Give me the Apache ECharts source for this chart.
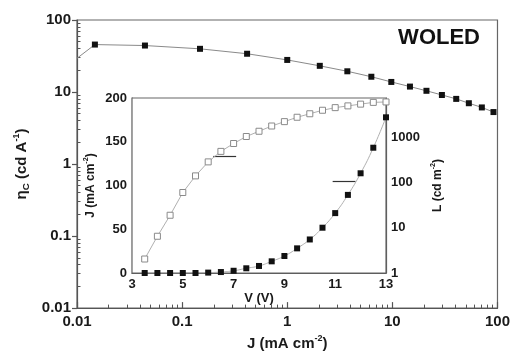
<!DOCTYPE html>
<html>
<head>
<meta charset="utf-8">
<script src="https://cdn.jsdelivr.net/npm/echarts@6/dist/echarts.min.js"></script>
<style>
  html, body { margin: 0; padding: 0; background: #fff; }
  #chart { width: 513px; height: 356px; }
</style>
</head>
<body>
<div id="chart"></div>
<script>
// main plot: current efficiency vs current density
const mainJ = [0.01, 0.0148, 0.0443, 0.148, 0.415, 1.0, 2.04, 3.73, 6.31, 9.77, 14.7, 21.1, 29.6, 40.5, 53.4, 71.0, 91.6];
const mainEta = [29.4, 45.6, 44.2, 39.8, 34.0, 27.9, 23.1, 19.4, 16.3, 13.8, 11.9, 10.4, 9.1, 8.03, 6.99, 6.11, 5.27];

// inset: J-V and L-V
const insetV = [3.5, 4, 4.5, 5, 5.5, 6, 6.5, 7, 7.5, 8, 8.5, 9, 9.5, 10, 10.5, 11, 11.5, 12, 12.5, 13];
const insetJ = [16, 42, 66, 92, 111, 127, 139, 148, 156, 162, 168, 173, 178, 182, 186, 189, 191, 193, 195, 195.5];
const insetL = [1, 1, 1, 1, 1, 1.02, 1.05, 1.12, 1.27, 1.43, 1.81, 2.37, 3.5, 5.5, 10, 21, 53, 159, 583, 2735];

// little arrows telling which axis each curve belongs to
const arrowJ = [[6.2, 133], [7.1, 133]];
const arrowL = [[10.9, 107], [11.8, 107]];

const logTicks = [0.01, 0.1, 1, 10, 100];
const insetLogTicks = [1, 10, 100, 1000];

function minorLog(lo, hi) {
  let out = [];
  for (let d = lo; d < hi; d *= 10) {
    for (let k = 2; k <= 9; k++) out.push(+(d * k).toPrecision(3));
  }
  return out;
}

const font = 'Liberation Sans, Arial, sans-serif';
const txt = '#1a1a1a';
const axisCol = '#555';
const fmt = v => String(parseFloat(Number(v).toPrecision(3)));

let chart = echarts.init(document.getElementById('chart'));

const labelStyle = size => ({
  fontFamily: font, fontWeight: 'bold', fontSize: size, color: txt
});
const richName = size => ({
  fontFamily: font, fontWeight: 'bold', fontSize: size, color: txt,
  rich: {
    a: {fontFamily: font, fontWeight: 'bold', fontSize: size, color: txt, lineHeight: size + 4},
    sup: {fontFamily: font, fontWeight: 'bold', fontSize: size * 0.6, color: txt, verticalAlign: 'top', lineHeight: size + 4},
    sub: {fontFamily: font, fontWeight: 'bold', fontSize: size * 0.65, color: txt, verticalAlign: 'bottom', lineHeight: size + 4}
  }
});

let option = {
  animation: false,
  backgroundColor: '#fff',
  grid: [
    {left: 77, top: 20, width: 421, height: 293, show: true, borderColor: '#666', borderWidth: 1.2},
    {left: 132, top: 98, width: 254, height: 175, show: true, borderColor: '#666', borderWidth: 1.2, backgroundColor: '#fff', z: 3}
  ],
  xAxis: [
    {
      type: 'log', gridIndex: 0, min: 0.01, max: 100, logBase: 10,
      axisLine: {lineStyle: {color: axisCol, width: 1.2}},
      axisTick: {inside: true, length: 6, lineStyle: {color: axisCol, width: 1.2}, customValues: logTicks},
      axisLabel: Object.assign(labelStyle(15), {formatter: fmt, margin: 6, customValues: logTicks}),
      splitLine: {show: false},
      name: '{a|J (mA cm}{sup|-2}{a|)}', nameLocation: 'middle', nameGap: 24,
      nameTextStyle: richName(15)
    },
    {
      type: 'log', gridIndex: 0, min: 0.01, max: 100, position: 'bottom',
      axisLine: {show: false},
      axisTick: {show: true, inside: true, length: 3.5, lineStyle: {color: axisCol, width: 1}, customValues: minorLog(0.01, 100)},
      axisLabel: {show: false}, splitLine: {show: false}
    },
    {
      type: 'value', gridIndex: 1, min: 3, max: 13, interval: 2,
      axisLine: {lineStyle: {color: axisCol, width: 1.2}},
      axisTick: {inside: true, length: 4, lineStyle: {color: axisCol}},
      minorTick: {show: true, splitNumber: 2, length: 2.5, lineStyle: {color: axisCol}},
      axisLabel: Object.assign(labelStyle(13), {margin: 5}),
      splitLine: {show: false},
      name: 'V (V)', nameLocation: 'middle', nameGap: 18,
      nameTextStyle: labelStyle(13)
    }
  ],
  yAxis: [
    {
      type: 'log', gridIndex: 0, min: 0.01, max: 100,
      axisLine: {lineStyle: {color: axisCol, width: 1.2}},
      axisTick: {length: 5, lineStyle: {color: axisCol, width: 1.2}, customValues: logTicks},
      axisLabel: Object.assign(labelStyle(15), {formatter: fmt, margin: 6, customValues: logTicks}),
      splitLine: {show: false},
      name: '{a|η}{sub|C}{a| (cd A}{sup|-1}{a|)}', nameLocation: 'middle', nameGap: 42, nameRotate: 90,
      nameTextStyle: richName(15)
    },
    {
      type: 'log', gridIndex: 0, min: 0.01, max: 100, position: 'left',
      axisLine: {show: false},
      axisTick: {show: true, inside: true, length: 3.5, lineStyle: {color: axisCol, width: 1}, customValues: minorLog(0.01, 100)},
      axisLabel: {show: false}, splitLine: {show: false}
    },
    {
      type: 'value', gridIndex: 1, min: 0, max: 200, interval: 50, position: 'left',
      axisLine: {lineStyle: {color: axisCol, width: 1.2}},
      axisTick: {inside: true, length: 4, lineStyle: {color: axisCol}},
      minorTick: {show: true, splitNumber: 2, length: 2.5, lineStyle: {color: axisCol}},
      axisLabel: Object.assign(labelStyle(13), {margin: 5}),
      splitLine: {show: false},
      name: '{a|J (mA cm}{sup|-2}{a|)}', nameLocation: 'middle', nameGap: 33, nameRotate: 90,
      nameTextStyle: richName(12)
    },
    {
      type: 'log', gridIndex: 1, min: 1, max: 7300, position: 'right',
      axisLine: {lineStyle: {color: axisCol, width: 1.2}},
      axisTick: {inside: true, length: 4, lineStyle: {color: axisCol}, customValues: insetLogTicks},
      axisLabel: Object.assign(labelStyle(13), {formatter: fmt, margin: 5, customValues: insetLogTicks}),
      splitLine: {show: false},
      name: '{a|L (cd m}{sup|-2}{a|)}', nameLocation: 'middle', nameGap: 44, nameRotate: 90,
      nameTextStyle: richName(12)
    },
    {
      type: 'log', gridIndex: 1, min: 1, max: 7300, position: 'right',
      axisLine: {show: false},
      axisTick: {show: true, inside: true, length: 2.5, lineStyle: {color: axisCol}, customValues: minorLog(1, 1000).concat([2000, 3000, 4000, 5000, 6000, 7000])},
      axisLabel: {show: false}, splitLine: {show: false}
    }
  ],
  graphic: [{
    type: 'text', right: 33, top: 27, z: 10,
    style: {text: 'WOLED', fontFamily: font, fontWeight: 'bold', fontSize: 22, fill: '#111'}
  }],
  series: [
    {
      type: 'line', xAxisIndex: 0, yAxisIndex: 0,
      data: mainJ.map((j, i) => i === 0 ? {value: [j, mainEta[i]], symbol: 'none'} : [j, mainEta[i]]),
      symbol: 'rect', symbolSize: 6,
      lineStyle: {color: '#8a8a8a', width: 1},
      itemStyle: {color: '#111', borderWidth: 0}
    },
    {
      type: 'line', xAxisIndex: 2, yAxisIndex: 2, z: 5,
      data: insetV.map((v, i) => [v, insetJ[i]]),
      symbol: 'rect', symbolSize: 6,
      lineStyle: {color: '#b0b0b0', width: 1},
      itemStyle: {color: '#fff', borderColor: '#8a8a8a', borderWidth: 1},
      markLine: {
        silent: true, symbol: 'none', label: {show: false},
        lineStyle: {color: '#333', width: 1.2, type: 'solid'},
        data: [[{coord: arrowJ[0]}, {coord: arrowJ[1]}]]
      }
    },
    {
      type: 'line', xAxisIndex: 2, yAxisIndex: 3, z: 5,
      data: insetV.map((v, i) => [v, insetL[i]]),
      symbol: 'rect', symbolSize: 6, smooth: true,
      lineStyle: {color: '#b0b0b0', width: 1},
      itemStyle: {color: '#111', borderWidth: 0},
      markLine: {
        silent: true, symbol: 'none', label: {show: false},
        lineStyle: {color: '#333', width: 1.2, type: 'solid'},
        data: [[{coord: arrowL[0]}, {coord: arrowL[1]}]]
      }
    }
  ]
};

chart.setOption(option);
</script>
</body>
</html>
